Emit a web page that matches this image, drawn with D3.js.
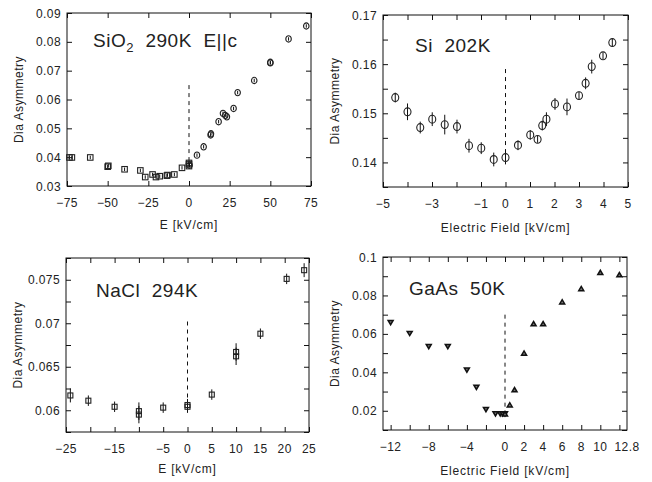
<!DOCTYPE html>
<html>
<head>
<meta charset="utf-8">
<script src="https://cdn.jsdelivr.net/npm/d3@7"></script>
<style>
  body { margin: 0; background: #fff; }
  svg { display: block; font-family: 'Liberation Sans', Arial, Helvetica, sans-serif; }
  text { fill: #222; }
</style>
</head>
<body>
<svg width="652" height="482"></svg>
<script>
// ---- SiO2 290K E||c ----
const sio2NegE = [-73.5, -72, -60.7, -50, -49.6, -39.6, -29.9, -26.9, -22.4, -20.3, -18, -13.6, -13.2, -9, -4.3, 0, 0, 0];
const sio2NegA = [0.0399, 0.0399, 0.0399, 0.0367, 0.0370, 0.0358, 0.0354, 0.0331, 0.0340, 0.0331, 0.0334, 0.0336, 0.0338, 0.0340, 0.0363, 0.0369, 0.0376, 0.0380];
const sio2PosE = [0.3, 4.9, 9, 13.3, 13.5, 18.2, 20.9, 22.3, 23.3, 27.4, 29.9, 40.1, 50, 50, 61.2, 72.1];
const sio2PosA = [0.0372, 0.0407, 0.0436, 0.0477, 0.0481, 0.0523, 0.0552, 0.0545, 0.0540, 0.0569, 0.0624, 0.0666, 0.0727, 0.0729, 0.0810, 0.0855];
const sio2Err = 0.0006;
const sio2XTicks = [-75, -50, -25, 0, 25, 50, 75];
const sio2YTicks = [0.03, 0.04, 0.05, 0.06, 0.07, 0.08, 0.09];

// ---- Si 202K ----
const siE = [-4.5, -4, -3.48, -2.99, -2.48, -1.98, -1.49, -0.99, -0.48, 0, 0.51, 1.01, 1.31, 1.5, 1.67, 2.02, 2.51, 3.0, 3.27, 3.52, 3.98, 4.36];
const siA = [0.1532, 0.1503, 0.1471, 0.1488, 0.1477, 0.1473, 0.1434, 0.1429, 0.1406, 0.1410, 0.1435, 0.1456, 0.1447, 0.1475, 0.1488, 0.1519, 0.1513, 0.1536, 0.1561, 0.1595, 0.1617, 0.1644];
const siErr = [0.0010, 0.0017, 0.0012, 0.0014, 0.0020, 0.0014, 0.0014, 0.0012, 0.0014, 0.0014, 0.0010, 0.0010, 0.0007, 0.0010, 0.0014, 0.0012, 0.0017, 0.0008, 0.0012, 0.0014, 0.0007, 0.0008];
const siXTicks = [-5, -4, -3, -2, -1, 0, 1, 2, 3, 4, 5];
const siXLabels = [-5, -3, -1, 0, 1, 2, 3, 4, 5];
const siYTicks = [0.135, 0.14, 0.145, 0.15, 0.155, 0.16, 0.165, 0.17];
const siYLabels = [0.14, 0.15, 0.16, 0.17];

// ---- NaCl 294K ----
const naclE = [-24.1, -20.4, -15, -10, -10, -5, 0, 0, 5, 10, 10, 15, 20.4, 24];
const naclA = [0.0617, 0.0611, 0.0604, 0.0599, 0.0595, 0.0603, 0.0604, 0.0606, 0.0618, 0.0667, 0.0662, 0.0688, 0.0751, 0.0761];
const naclErr = [0.0008, 0.0006, 0.0006, 0.0010, 0.0010, 0.0006, 0.0007, 0.0007, 0.0006, 0.0010, 0.0010, 0.0006, 0.0006, 0.0008];
const naclXTicks = [-25, -20, -15, -10, -5, 0, 5, 10, 15, 20, 25];
const naclXLabels = [-25, -15, -5, 0, 5, 10, 15, 20, 25];
const naclYTicks = [0.0575, 0.06, 0.0625, 0.065, 0.0675, 0.07, 0.0725, 0.075, 0.0775];
const naclYLabels = [0.06, 0.065, 0.07, 0.075];

// ---- GaAs 50K ----
const gaasNegE = [-12, -10, -8, -6, -4, -3, -2, -1, -0.5, -0.25, 0];
const gaasNegA = [0.0659, 0.0602, 0.0534, 0.0534, 0.0412, 0.0322, 0.0206, 0.0184, 0.0184, 0.0184, 0.0184];
const gaasPosE = [0, 0.5, 1, 2, 3, 4, 6, 8, 10, 12];
const gaasPosA = [0.0184, 0.0231, 0.0310, 0.0500, 0.0653, 0.0653, 0.0767, 0.0836, 0.0920, 0.0908];
const gaasErr = 0.0004;
const gaasXTicks = [-12, -10, -8, -6, -4, -2, 0, 2, 4, 6, 8, 10, 12];
const gaasXLabels = [-12, -8, -4, 0, 2, 4, 6, 8, 10, 12.8];
const gaasYTicks = [0.01, 0.02, 0.03, 0.04, 0.05, 0.06, 0.07, 0.08, 0.09, 0.1];
const gaasYLabels = [0.02, 0.04, 0.06, 0.08, 0.1];

const svg = d3.select('svg');

function fmt(v) {
  return String(+v.toFixed(4)).replace('-', '\u2212');
}

function zip(xs, ys, errs) {
  return xs.map((x, i) => ({ x: x, y: ys[i], e: Array.isArray(errs) ? errs[i] : errs }));
}

function drawPanel(p) {
  const x = d3.scaleLinear().domain(p.xDomain).range([p.left, p.right]);
  const y = d3.scaleLinear().domain(p.yDomain).range([p.bottom, p.top]);
  const g = svg.append('g');
  const tl = 5;

  // ticks, all pointing inward
  const axes = [
    [d3.axisBottom(x).tickValues(p.xTicks), p.bottom, 'x'],
    [d3.axisTop(x).tickValues(p.xTicks), p.top, 'x'],
    [d3.axisLeft(y).tickValues(p.yTicks), p.left, 'y'],
    [d3.axisRight(y).tickValues(p.yTicks), p.right, 'y'],
  ];
  axes.forEach(([ax, pos, dir]) => {
    const a = g.append('g')
      .attr('transform', dir === 'x' ? `translate(0,${pos})` : `translate(${pos},0)`)
      .call(ax.tickSize(-tl).tickFormat(''));
    a.select('.domain').remove();
    a.selectAll('line').attr('stroke', '#111').attr('stroke-width', 1);
  });

  g.append('rect')
    .attr('x', p.left).attr('y', p.top)
    .attr('width', p.right - p.left).attr('height', p.bottom - p.top)
    .attr('fill', 'none').attr('stroke', '#111').attr('stroke-width', 1);

  // tick labels
  g.selectAll('.xl').data(p.xLabels).enter().append('text')
    .attr('x', d => x(d)).attr('y', p.bottom + 21)
    .attr('text-anchor', 'middle').attr('font-size', 12).attr('letter-spacing', 0.4)
    .text(fmt);
  g.selectAll('.yl').data(p.yLabels).enter().append('text')
    .attr('x', p.left - 6).attr('y', d => y(d) + 4.5)
    .attr('text-anchor', 'end').attr('font-size', 12).attr('letter-spacing', 0.4)
    .text(fmt);

  // axis titles
  g.append('text')
    .attr('x', (p.left + p.right) / 2).attr('y', p.bottom + p.xTitleGap)
    .attr('text-anchor', 'middle').attr('font-size', 12).attr('letter-spacing', 0.8)
    .text(p.xTitle);
  g.append('text')
    .attr('transform', `translate(${p.left - 44},${(p.top + p.bottom) / 2}) rotate(-90)`)
    .attr('text-anchor', 'middle').attr('font-size', 12).attr('letter-spacing', 0.5)
    .text('Dia Asymmetry');

  // dashed zero line
  g.append('line')
    .attr('x1', x(0)).attr('x2', x(0))
    .attr('y1', y(p.dash[0])).attr('y2', y(p.dash[1]))
    .attr('stroke', '#111').attr('stroke-width', 1).attr('stroke-dasharray', '4,4');

  // data
  p.series.forEach(s => {
    const pts = g.append('g').selectAll('g').data(s.data).enter().append('g')
      .attr('transform', d => `translate(${x(d.x)},${y(d.y)})`);
    pts.append('line')
      .attr('y1', d => y(d.y + d.e) - y(d.y)).attr('y2', d => y(d.y - d.e) - y(d.y))
      .attr('stroke', '#111').attr('stroke-width', 1);
    const sz = s.size;
    if (s.shape === 'square') {
      pts.append('rect').attr('x', -sz / 2).attr('y', -sz / 2).attr('width', sz).attr('height', sz)
        .attr('fill', 'none').attr('stroke', '#222').attr('stroke-width', 1.1);
    } else if (s.shape === 'circle') {
      pts.append('ellipse').attr('rx', sz / 2).attr('ry', sz / 2 + 0.4)
        .attr('fill', 'none').attr('stroke', '#222').attr('stroke-width', 1.1);
    } else {
      const h = sz * 0.85, w = sz / 2;
      const path = s.shape === 'down'
        ? `M${-w},${-h / 2}L${w},${-h / 2}L0,${h / 2}Z`
        : `M${-w},${h / 2}L${w},${h / 2}L0,${-h / 2}Z`;
      pts.append('path').attr('d', path)
        .attr('fill', '#777').attr('stroke', '#111').attr('stroke-width', 1.5);
    }
  });

  // panel title
  const t = g.append('text')
    .attr('x', p.titleX).attr('y', p.titleY)
    .attr('font-size', 19).attr('letter-spacing', 0.5)
    .style('white-space', 'pre');
  p.title(t);
}

drawPanel({
  left: 67, right: 311, top: 13, bottom: 186,
  xDomain: [-75, 75], yDomain: [0.03, 0.09],
  xTicks: sio2XTicks, xLabels: sio2XTicks, yTicks: sio2YTicks, yLabels: sio2YTicks,
  xTitle: 'E [kV/cm]', xTitleGap: 43, dash: [0.065, 0.038],
  titleX: 93, titleY: 47,
  title: t => {
    t.append('tspan').text('SiO');
    t.append('tspan').attr('font-size', 13).attr('dy', 5).text('2');
    t.append('tspan').attr('dy', -5).text('  290K  E||c');
  },
  series: [
    { data: zip(sio2NegE, sio2NegA, sio2Err), shape: 'square', size: 5.5 },
    { data: zip(sio2PosE, sio2PosA, sio2Err), shape: 'circle', size: 5.5 },
  ],
});

drawPanel({
  left: 383, right: 628, top: 15, bottom: 187,
  xDomain: [-5, 5], yDomain: [0.135, 0.17],
  xTicks: siXTicks, xLabels: siXLabels, yTicks: siYTicks, yLabels: siYLabels,
  xTitle: 'Electric Field [kV/cm]', xTitleGap: 45, dash: [0.159, 0.1415],
  titleX: 415, titleY: 52,
  title: t => t.text('Si  202K'),
  series: [
    { data: zip(siE, siA, siErr), shape: 'circle', size: 7 },
  ],
});

drawPanel({
  left: 66, right: 309, top: 258, bottom: 432,
  xDomain: [-25, 25], yDomain: [0.0575, 0.0775],
  xTicks: naclXTicks, xLabels: naclXLabels, yTicks: naclYTicks, yLabels: naclYLabels,
  xTitle: 'E [kV/cm]', xTitleGap: 41, dash: [0.0702, 0.0611],
  titleX: 96, titleY: 297,
  title: t => t.text('NaCl  294K'),
  series: [
    { data: zip(naclE, naclA, naclErr), shape: 'square', size: 5 },
  ],
});

drawPanel({
  left: 383, right: 627, top: 257, bottom: 430,
  xDomain: [-12.8, 12.8], yDomain: [0.01, 0.1],
  xTicks: gaasXTicks, xLabels: gaasXLabels, yTicks: gaasYTicks, yLabels: gaasYLabels,
  xTitle: 'Electric Field [kV/cm]', xTitleGap: 45, dash: [0.07, 0.0175],
  titleX: 409, titleY: 295,
  title: t => t.text('GaAs  50K'),
  series: [
    { data: zip(gaasNegE, gaasNegA, gaasErr), shape: 'down', size: 5 },
    { data: zip(gaasPosE, gaasPosA, gaasErr), shape: 'up', size: 5 },
  ],
});
</script>
</body>
</html>
